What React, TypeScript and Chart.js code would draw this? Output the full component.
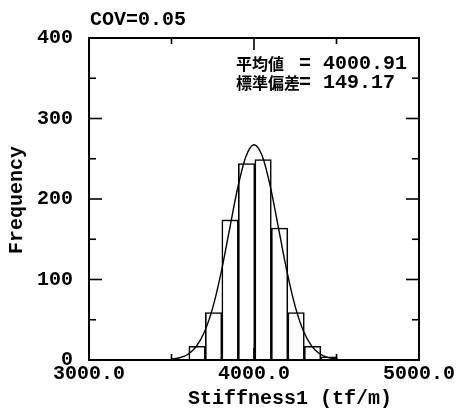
import React, { useEffect, useRef } from "react";
import { Chart, registerables } from "chart.js";

Chart.register(...registerables);

// ---- data ----
const binCenters = [3655, 3755, 3855, 3955, 4055, 4155, 4255, 4355, 4455];
const counts = [17, 59, 174, 244, 249, 164, 59, 17, 4];
const curveX = [3500, 3550, 3600, 3650, 3700, 3750, 3800, 3850, 3900, 3950, 4000, 4050, 4100, 4150, 4200, 4250, 4300, 4350, 4400, 4450, 4500];
const curveY = [1.0, 2.8, 7.2, 16.8, 35.0, 65.0, 108.0, 160.3, 212.7, 252.3, 267.4, 253.3, 214.5, 162.3, 109.7, 66.3, 35.8, 17.3, 7.5, 2.9, 1.0];
const xTickValues = [3000, 4000, 5000];
const xMinorTicks = [3500, 4500];
const yTickValues = [0, 100, 200, 300, 400];
const yMinorTicks = [50, 150, 250, 350];
const titleText = "COV=0.05";
const xTitle = "Stiffness1 (tf/m)";
const yTitle = "Frequency";
const statLabels = ["平均値", "標準偏差"];
const statValues = ["4000.91", "149.17"];

const MONO = "bold 20px 'Liberation Mono', 'DejaVu Sans Mono', monospace";

const decorPlugin = {
  id: "decor",
  afterDraw(chart: any) {
    const { ctx, chartArea: a, scales } = chart;
    const xs = scales.x;
    const ys = scales.y;
    ctx.save();
    ctx.strokeStyle = "#000";
    // frame
    ctx.lineWidth = 2;
    ctx.strokeRect(a.left, a.top, a.right - a.left, a.bottom - a.top);
    // inward ticks
    ctx.lineWidth = 1.6;
    const tick = (x1: number, y1: number, x2: number, y2: number) => {
      ctx.beginPath();
      ctx.moveTo(x1, y1);
      ctx.lineTo(x2, y2);
      ctx.stroke();
    };
    yTickValues.forEach((v) => {
      const y = ys.getPixelForValue(v);
      tick(a.left, y, a.left + 13, y);
      tick(a.right, y, a.right - 13, y);
    });
    yMinorTicks.forEach((v) => {
      const y = ys.getPixelForValue(v);
      tick(a.left, y, a.left + 7, y);
      tick(a.right, y, a.right - 7, y);
    });
    xTickValues.forEach((v) => {
      const x = xs.getPixelForValue(v);
      tick(x, a.top, x, a.top + 12);
      tick(x, a.bottom, x, a.bottom - 12);
    });
    xMinorTicks.forEach((v) => {
      const x = xs.getPixelForValue(v);
      tick(x, a.top, x, a.top + 6);
      tick(x, a.bottom, x, a.bottom - 6);
    });
    // texts
    ctx.fillStyle = "#000";
    ctx.font = MONO;
    ctx.textBaseline = "middle";
    ctx.textAlign = "left";
    ctx.fillText(titleText, 90, 20);
    ctx.textAlign = "center";
    ctx.textBaseline = "alphabetic";
    ctx.fillText(xTitle, 290, 404);
    ctx.save();
    ctx.translate(17, 200);
    ctx.rotate(-Math.PI / 2);
    ctx.textBaseline = "middle";
    ctx.fillText(yTitle, 0, 0);
    ctx.restore();
    // stats
    const rows = [64, 83];
    rows.forEach((y, i) => {
      ctx.textAlign = "left";
      ctx.textBaseline = "middle";
      ctx.font = "bold 16px 'Noto Sans CJK JP', sans-serif";
      ctx.fillText(statLabels[i], 236, y);
      ctx.font = MONO;
      ctx.fillText("=", 299, y);
      ctx.fillText(statValues[i], 323, y);
    });
    ctx.restore();
  },
};

export default function App() {
  const ref = useRef<HTMLCanvasElement | null>(null);
  useEffect(() => {
    if (!ref.current) return;
    const chart = new Chart(ref.current, {
      type: "bar",
      data: {
        datasets: [
          {
            type: "line",
            data: curveX.map((x, i) => ({ x, y: curveY[i] })),
            borderColor: "#000",
            borderWidth: 1.4,
            pointRadius: 0,
            fill: false,
            cubicInterpolationMode: "monotone",
            order: 0,
          } as any,
          {
            type: "bar",
            data: binCenters.map((x, i) => ({ x, y: counts[i] })),
            backgroundColor: "#fff",
            borderColor: "#000",
            borderWidth: 1.6,
            barPercentage: 1,
            categoryPercentage: 1,
            order: 1,
          } as any,
        ],
      },
      plugins: [decorPlugin],
      options: {
        responsive: false,
        devicePixelRatio: 1,
        animation: false,
        layout: { padding: { top: 38, right: 35, left: 0, bottom: 0 }, autoPadding: false } as any,
        plugins: { legend: { display: false }, tooltip: { enabled: false }, title: { display: false } },
        scales: {
          x: {
            type: "linear",
            min: 3000,
            max: 5000,
            offset: false,
            grid: { display: false, drawTicks: false, offset: false },
            border: { display: false },
            afterBuildTicks: (s: any) => {
              s.ticks = xTickValues.map((v) => ({ value: v }));
            },
            afterFit: (s: any) => {
              s.height = 53;
            },
            ticks: {
              color: "#000",
              padding: 2,
              maxRotation: 0,
              autoSkip: false,
              font: { family: "'Liberation Mono', monospace", size: 20, weight: "bold" },
              callback: (v: any) => Number(v).toFixed(1),
            },
          } as any,
          y: {
            type: "linear",
            min: 0,
            max: 400,
            grid: { display: false, drawTicks: false },
            border: { display: false },
            afterBuildTicks: (s: any) => {
              s.ticks = yTickValues.map((v) => ({ value: v }));
            },
            afterFit: (s: any) => {
              s.width = 89;
            },
            ticks: {
              color: "#000",
              padding: 16,
              font: { family: "'Liberation Mono', monospace", size: 20, weight: "bold" },
              callback: (v: any) => String(v),
            },
          },
        },
      },
    });
    return () => chart.destroy();
  }, []);
  return (
    <div style={{ position: "absolute", left: 0, top: 0, width: 457, height: 413, background: "#fff" }}>
      <canvas ref={ref} width={457} height={413} />
    </div>
  );
}
